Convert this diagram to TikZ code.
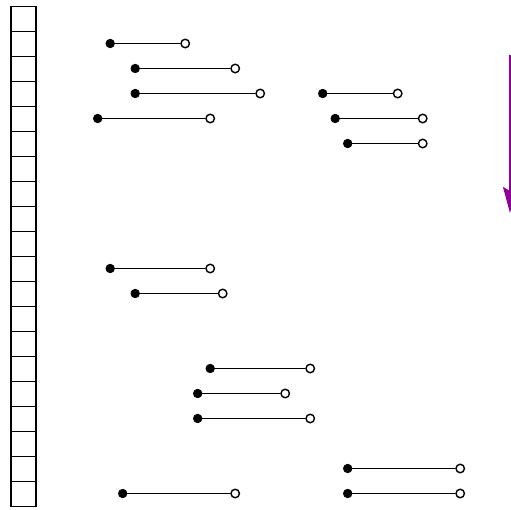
\documentclass[tikz,border=0pt]{standalone}
\usetikzlibrary{arrows.meta}
\definecolor{arrowpurple}{RGB}{140,0,150}
\tikzset{
  cellbox/.style={draw=black,line width=1.5pt,minimum width=25pt,minimum height=25pt,inner sep=0pt,outer sep=0pt},
  closedend/.style={circle,fill=black,draw=black,line width=0.8pt,minimum size=8.5pt,inner sep=0pt},
  openend/.style={circle,fill=white,draw=black,line width=1.4pt,minimum size=8.5pt,inner sep=0pt},
  segline/.style={line width=1.9pt,black},
  timearrow/.style={draw=arrowpurple,line width=1.6pt,-{Stealth[length=26pt,width=14pt,inset=4pt]}}
}
\begin{document}
\begin{tikzpicture}[x=1pt,y=-1pt]
\useasboundingbox (0,0) rectangle (511,510);
% column of cells
\foreach \i in {0,...,19}{
  \node[cellbox] (cell\i) at (23.5,{19+25*\i}) {};
}
% intervals: name/row/start/end (x = 97.7 + 12.5*n, y = 43.5 + 25*row)
\foreach \nm/\r/\a/\b in {
  a/0/1/7, b/1/3/11, c/2/3/13, d/2/18/24, e/3/0/9, f/3/19/26,
  g/4/20/26, h/9/1/9, k/10/3/10, l/13/9/17, m/14/8/15, n/15/8/17,
  p/17/20/29, q/18/2/11, s/18/20/29}{
  \node[closedend] (\nm s) at ({97.7+12.5*\a},{43.5+25*\r}) {};
  \node[openend] (\nm e) at ({97.7+12.5*\b},{43.5+25*\r}) {};
  \draw[segline] (\nm s) -- (\nm e);
}
% time arrow
\coordinate (arrtop) at (510,55);
\coordinate (arrbot) at (510,213);
\draw[timearrow] (arrtop) -- (arrbot);
\end{tikzpicture}
\end{document}
